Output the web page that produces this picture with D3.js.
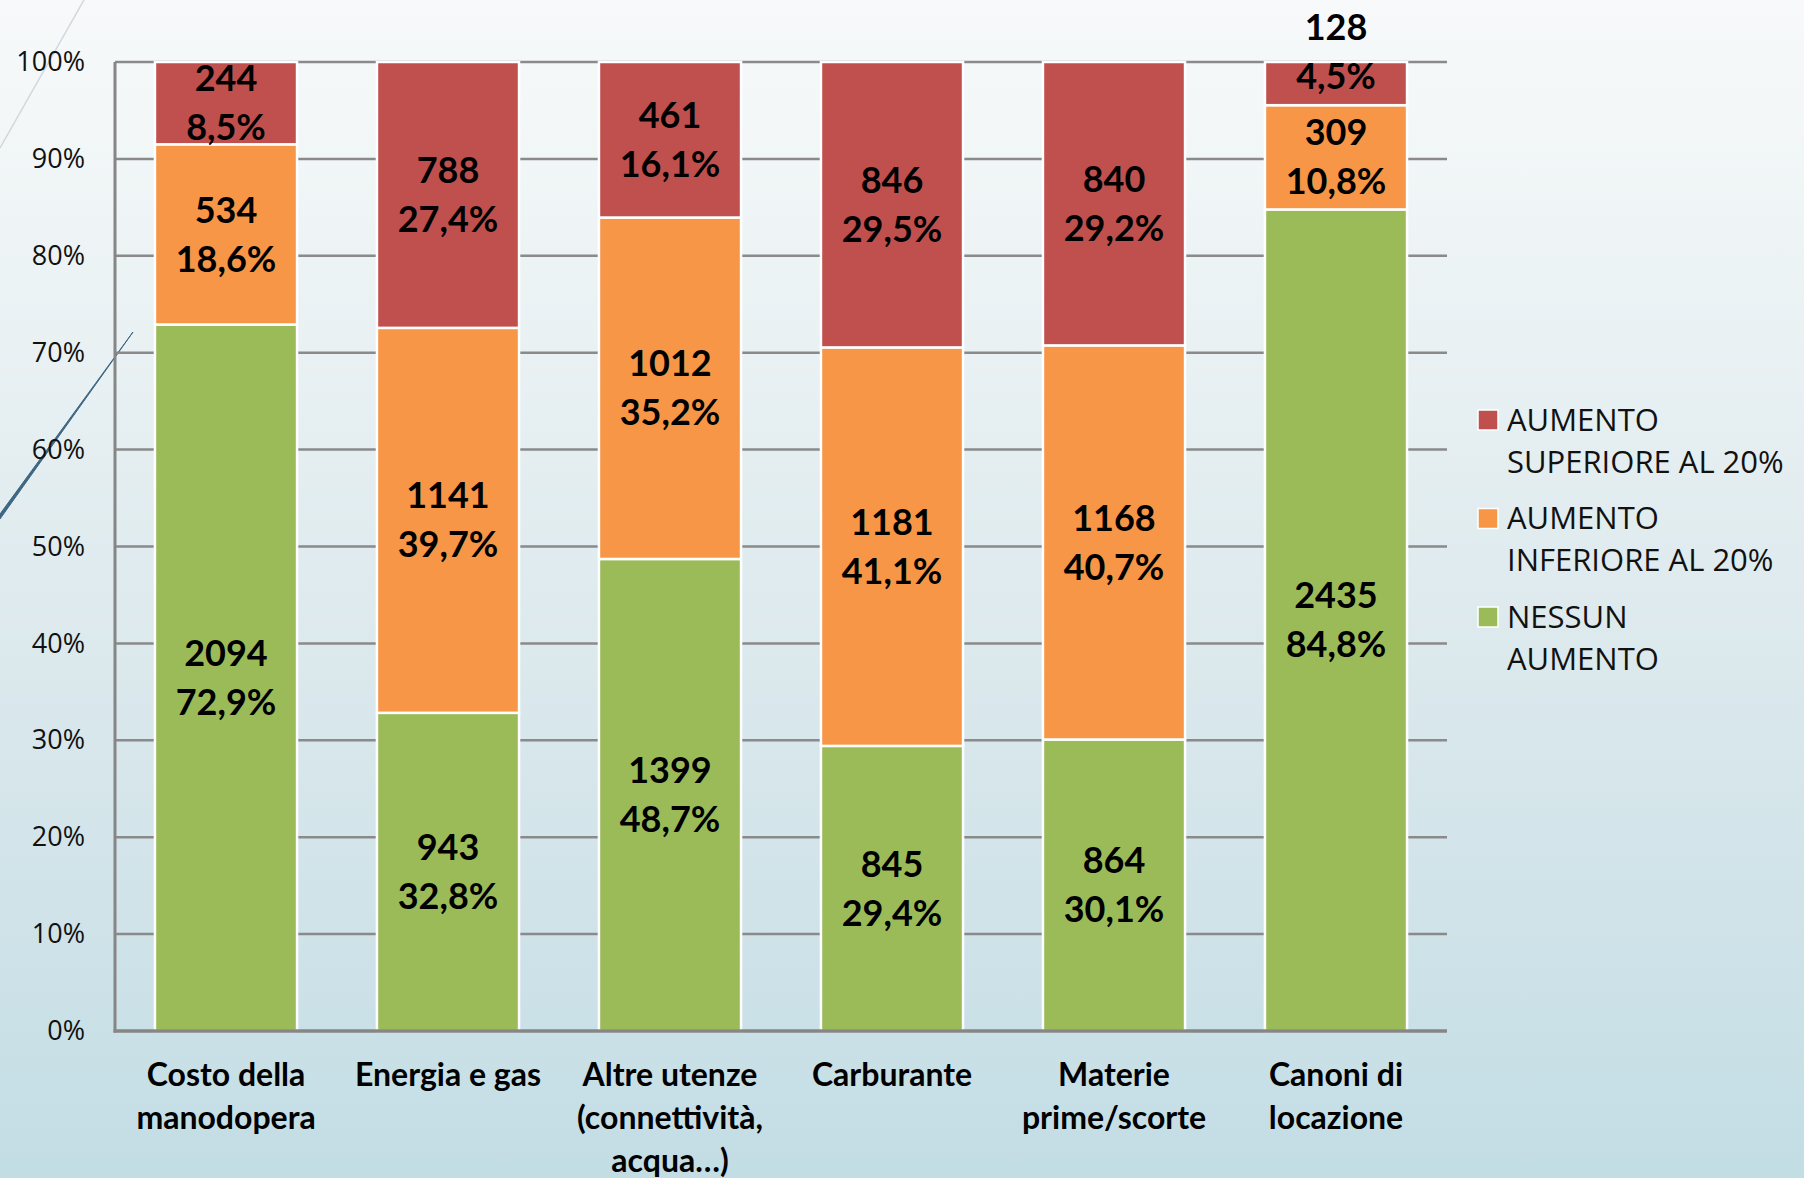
<!DOCTYPE html>
<html>
<head>
<meta charset="utf-8">
<script src="https://cdn.jsdelivr.net/npm/d3@7"></script>
<style>
  html, body { margin: 0; padding: 0; }
  body { width: 1804px; height: 1178px; overflow: hidden; }
</style>
</head>
<body>
<div id="chart"></div>
<script>
// categories and counts
const categories = [
  ['Costo della', 'manodopera'],
  ['Energia e gas'],
  ['Altre utenze', '(connettività,', 'acqua…)'],
  ['Carburante'],
  ['Materie', 'prime/scorte'],
  ['Canoni di', 'locazione'],
];
const nessunAumento = [2094, 943, 1399, 845, 864, 2435];
const aumentoInferiore = [534, 1141, 1012, 1181, 1168, 309];
const aumentoSuperiore = [244, 788, 461, 846, 840, 128];
const seriesNames = ['NESSUN AUMENTO', 'AUMENTO INFERIORE AL 20%', 'AUMENTO SUPERIORE AL 20%'];
const seriesColors = ['#9BBB59', '#F79646', '#C0504D'];
const legendLines = [['NESSUN', 'AUMENTO'], ['AUMENTO', 'INFERIORE AL 20%'], ['AUMENTO', 'SUPERIORE AL 20%']];
const yTicks = [0, 0.1, 0.2, 0.3, 0.4, 0.5, 0.6, 0.7, 0.8, 0.9, 1];

const width = 1804;
const height = 1178;
const margin = { top: 62, right: 357, bottom: 147, left: 115 };

const svg = d3.select('#chart')
  .append('svg')
  .attr('width', width)
  .attr('height', height);

// slide background
const defs = svg.append('defs');
const grad = defs.append('linearGradient')
  .attr('id', 'bg')
  .attr('x1', 0).attr('y1', 0).attr('x2', 0).attr('y2', 1);
grad.append('stop').attr('offset', '0%').attr('stop-color', '#f7f9fa');
grad.append('stop').attr('offset', '10%').attr('stop-color', '#f3f7f8');
grad.append('stop').attr('offset', '55%').attr('stop-color', '#dce9ed');
grad.append('stop').attr('offset', '100%').attr('stop-color', '#c3dde5');
svg.append('rect')
  .attr('width', width)
  .attr('height', height)
  .attr('fill', 'url(#bg)');

// decorative slide strokes
svg.append('line')
  .attr('x1', 84).attr('y1', 0).attr('x2', 0).attr('y2', 148)
  .attr('stroke', '#cdd8df').attr('stroke-width', 1.5);
svg.append('path')
  .attr('d', 'M133,332 L0,519 L0,514 Z')
  .attr('fill', '#3f6782')
  .attr('stroke', '#3f6782')
  .attr('stroke-width', 1);

// stacked data
const rows = categories.map((c, i) => ({
  name: c,
  nessun: nessunAumento[i],
  inferiore: aumentoInferiore[i],
  superiore: aumentoSuperiore[i],
  total: nessunAumento[i] + aumentoInferiore[i] + aumentoSuperiore[i],
}));
const keys = ['nessun', 'inferiore', 'superiore'];
const stack = d3.stack()
  .keys(keys)
  .offset(d3.stackOffsetExpand);
const layers = stack(rows);

const x = d3.scaleBand()
  .domain(d3.range(rows.length))
  .range([margin.left, width - margin.right])
  .paddingInner(0.36)
  .paddingOuter(0.18);

const y = d3.scaleLinear()
  .domain([0, 1])
  .range([height - margin.bottom, margin.top]);

// gridlines
svg.append('g')
  .selectAll('line')
  .data(yTicks.slice(1))
  .join('line')
  .attr('x1', margin.left)
  .attr('x2', width - margin.right)
  .attr('y1', (d) => y(d))
  .attr('y2', (d) => y(d))
  .attr('stroke', '#8a8a8a')
  .attr('stroke-width', 2.5);

// y axis
const yAxis = svg.append('g')
  .attr('transform', `translate(${margin.left},0)`)
  .call(d3.axisLeft(y).tickValues(yTicks).tickSize(0).tickPadding(30)
    .tickFormat((d) => `${Math.round(d * 100)}%`));
yAxis.select('.domain').remove();
yAxis.selectAll('text')
  .attr('font-family', '"Open Sans", sans-serif')
  .attr('font-size', 27)
  .attr('fill', '#111');

// bars
const layer = svg.append('g')
  .selectAll('g')
  .data(layers)
  .join('g')
  .attr('fill', (d, i) => seriesColors[i]);

layer.selectAll('rect')
  .data((d) => d.map((v, i) => ({ v, i })))
  .join('rect')
  .attr('x', (d) => x(d.i))
  .attr('width', x.bandwidth())
  .attr('y', (d) => y(d.v[1]))
  .attr('height', (d) => y(d.v[0]) - y(d.v[1]))
  .attr('stroke', '#ffffff')
  .attr('stroke-width', 2.5);

// axis lines
svg.append('line')
  .attr('x1', margin.left).attr('x2', margin.left)
  .attr('y1', margin.top).attr('y2', height - margin.bottom + 1.5)
  .attr('stroke', '#868686').attr('stroke-width', 3);
svg.append('line')
  .attr('x1', margin.left - 1.5).attr('x2', width - margin.right)
  .attr('y1', height - margin.bottom).attr('y2', height - margin.bottom)
  .attr('stroke', '#868686').attr('stroke-width', 3.5);

// data labels: count and share
const fmt = (p) => `${(Math.round(p * 1000) / 10).toFixed(1).replace('.', ',')}%`;
const labelGap = 49;
layers.forEach((ly) => {
  ly.forEach((v, i) => {
    const top = y(v[1]);
    const bottom = y(v[0]);
    const mid = (top + bottom) / 2;
    // Excel pushes the block up when the slice is too thin
    const pctY = bottom - top < 60 ? mid - 7 : mid + labelGap / 2;
    const g = svg.append('text')
      .attr('text-anchor', 'middle')
      .attr('font-family', 'Lato, sans-serif')
      .attr('font-weight', 700)
      .attr('font-size', 36)
      .attr('fill', '#000');
    g.append('tspan')
      .attr('x', x(i) + x.bandwidth() / 2)
      .attr('y', pctY - labelGap)
      .attr('dy', '0.35em')
      .text(v.data[ly.key]);
    g.append('tspan')
      .attr('x', x(i) + x.bandwidth() / 2)
      .attr('y', pctY)
      .attr('dy', '0.35em')
      .text(fmt(v.data[ly.key] / v.data.total));
  });
});

// category labels
svg.append('g')
  .selectAll('text')
  .data(rows)
  .join('text')
  .attr('text-anchor', 'middle')
  .attr('font-family', 'Lato, sans-serif')
  .attr('font-weight', 700)
  .attr('font-size', 32)
  .attr('fill', '#000')
  .each(function (d, i) {
    d3.select(this).selectAll('tspan')
      .data(d.name)
      .join('tspan')
      .attr('x', x(i) + x.bandwidth() / 2)
      .attr('y', (t, k) => 1075 + k * 43)
      .attr('dy', '0.35em')
      .text((t) => t);
  });

// legend (top entry is the top series)
const legend = svg.append('g')
  .attr('transform', 'translate(1478,420)');
const order = [2, 1, 0];
order.forEach((s, k) => {
  const item = legend.append('g')
    .attr('transform', `translate(0,${k * 98.5})`);
  item.append('rect')
    .attr('x', 0).attr('y', -10)
    .attr('width', 20).attr('height', 20)
    .attr('fill', seriesColors[s])
    .attr('stroke', '#fff')
    .attr('stroke-width', 1.5);
  item.append('text')
    .attr('font-family', '"Open Sans", sans-serif')
    .attr('font-size', 31)
    .attr('fill', '#111')
    .selectAll('tspan')
    .data(legendLines[s])
    .join('tspan')
    .attr('x', 29)
    .attr('y', (t, j) => j * 42)
    .attr('dy', '0.35em')
    .text((t) => t);
});
</script>
</body>
</html>
